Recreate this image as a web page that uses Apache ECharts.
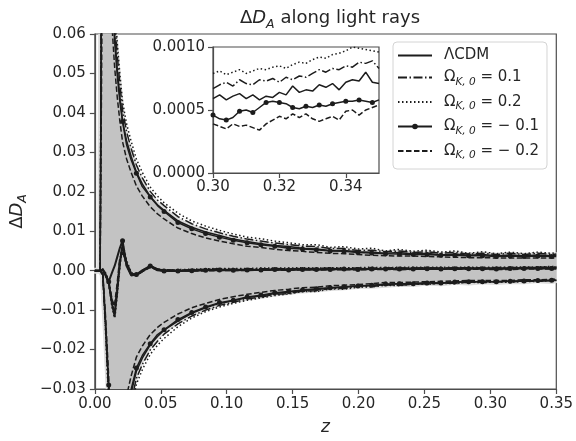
<!DOCTYPE html>
<html><head><meta charset="utf-8">
<script src="https://cdn.jsdelivr.net/npm/echarts@6/dist/echarts.min.js"></script>
<style>html,body{margin:0;padding:0;background:#fff}#c{width:576px;height:441px}</style>
</head><body><div id="c"></div><script>
// ---------- data ----------
const Z = [0,0.002,0.004,0.006,0.008,0.0105,0.013,0.015,0.017,0.019,0.021,0.024,0.0275,0.0315,0.036,0.042,0.0475,0.0525,0.063,0.0735,0.084,0.0945,0.105,0.1155,0.126,0.1365,0.147,0.1575,0.168,0.1785,0.189,0.1995,0.21,0.2205,0.231,0.2415,0.252,0.2625,0.273,0.2835,0.294,0.3045,0.315,0.3255,0.336,0.3465,0.35];

// means
const meanLCDM = [0,0,0,0.0003,-0.0008,-0.0028,-0.0085,-0.0115,-0.005,0.002,
 0.0065,0.002,-0.0008,-0.0011,-0.0002,0.0011,0.0003,0.0001,-0.0001,0.0001,
 0.0002,0.0003,0.0002,0.0003,0.0002,0.0003,0.0003,0.0004,0.0003,0.0004,
 0.0004,0.0005,0.0004,0.0005,0.0005,0.0005,0.0006,0.0005,0.0006,0.0006,
 0.0006,0.0006,0.00061,0.00067,0.0007,0.00076,0.00071];
const meanP01 = [0,0,0,0.0002,-0.001,-0.003,-0.008,-0.0105,-0.0045,0.0025,
 0.006,0.0015,-0.001,-0.0012,0,0.0012,0.0004,0.0002,0.0001,0.0002,
 0.0003,0.0004,0.0003,0.0004,0.0004,0.0005,0.0004,0.0005,0.0005,0.0006,
 0.0005,0.0006,0.0006,0.0006,0.0007,0.0006,0.0007,0.0006,0.0007,0.0007,
 0.0007,0.00071,0.00073,0.00076,0.00082,0.00088,0.00083];
const meanP02 = [0,0,0,0.0004,-0.0006,-0.0025,-0.009,-0.012,-0.0055,0.0015,
 0.0068,0.0025,-0.0005,-0.001,-0.0001,0.001,0.0002,0,0.0002,0.0003,
 0.0004,0.0005,0.0005,0.0005,0.0006,0.0006,0.0006,0.0007,0.0006,0.0007,
 0.0007,0.0007,0.0008,0.0007,0.0008,0.0008,0.0008,0.0008,0.0008,0.0008,
 0.0008,0.0008,0.00082,0.00086,0.00091,0.00099,0.00096];
const meanM01 = [0,0,0,0.0002,-0.0012,-0.0028,-0.0005,0.0012,0.0035,0.0058,
 0.0076,0.0012,-0.0012,-0.001,0.0001,0.0012,0.0001,-0.0001,-0.0001,0,
 0.0001,0.0002,0.0001,0.0002,0.0002,0.0003,0.0002,0.0003,0.0003,0.0003,
 0.0004,0.0003,0.0004,0.0004,0.0004,0.0004,0.0005,0.0004,0.0005,0.0005,
 0.0005,0.00044,0.00054,0.00052,0.00056,0.00057,0.00058];
const meanM02 = [0,0,0,0.0003,-0.0009,-0.0032,-0.0075,-0.009,-0.0035,0.003,
 0.005,0.0018,-0.0006,-0.0012,-0.0002,0.0009,0.0002,0,-0.0001,0,
 0,0.0001,0.0001,0.0001,0.0002,0.0002,0.0002,0.0003,0.0002,0.0003,
 0.0003,0.0003,0.0003,0.0004,0.0003,0.0004,0.0004,0.0004,0.0004,0.0004,
 0.0004,0.00037,0.00036,0.00046,0.00046,0.00052,0.00054];

// upper / lower spread curves
const upLCDM = [0,0,0,0.15,0.14,0.10,0.072,0.060,0.051,0.044,
 0.038,0.033,0.029,0.025,0.022,0.0188,0.0167,0.0153,0.0126,0.0110,
 0.0098,0.0089,0.0080,0.0074,0.0068,0.0064,0.0061,0.0057,0.0055,0.0051,
 0.0051,0.0048,0.0047,0.0044,0.0046,0.0042,0.0044,0.0040,0.0042,0.0039,
 0.0041,0.0038,0.0040,0.0038,0.0040,0.0038,0.0039];
const loLCDM = [0,0,0,-0.001,-0.013,-0.030,-0.070,-0.068,-0.058,-0.050,
 -0.044,-0.037,-0.031,-0.0255,-0.0222,-0.0188,-0.0167,-0.0151,-0.0128,-0.0108,
 -0.0094,-0.0083,-0.0076,-0.0068,-0.0064,-0.0058,-0.0054,-0.0050,-0.0048,-0.0044,
 -0.0042,-0.0039,-0.0038,-0.0036,-0.0033,-0.0034,-0.0030,-0.0032,-0.0028,-0.0030,
 -0.0027,-0.0029,-0.0026,-0.0027,-0.0024,-0.0026,-0.0024];
const upP01 = [0,0,0,0.16,0.15,0.107,0.077,0.064,0.0546,0.0471,
 0.0407,0.0353,0.031,0.0268,0.0235,0.0201,0.0179,0.0165,0.0137,0.0119,
 0.0106,0.0096,0.0087,0.0080,0.0075,0.0070,0.0066,0.0062,0.0061,0.0056,
 0.0056,0.0051,0.0052,0.0048,0.0050,0.0046,0.0048,0.0044,0.0046,0.0042,
 0.0044,0.0041,0.0044,0.0041,0.0044,0.0041,0.0042];
const loP01 = [0,0,0,-0.0012,-0.014,-0.032,-0.075,-0.0728,-0.062,-0.0535,
 -0.0471,-0.0396,-0.0332,-0.0273,-0.0238,-0.0201,-0.0179,-0.0161,-0.0135,-0.0115,
 -0.0100,-0.0088,-0.0080,-0.0072,-0.0067,-0.0060,-0.0058,-0.0052,-0.0051,-0.0045,
 -0.0045,-0.0040,-0.0040,-0.0036,-0.0037,-0.0034,-0.0034,-0.0032,-0.0032,-0.0029,
 -0.0030,-0.0027,-0.0029,-0.0026,-0.0027,-0.0024,-0.0025];
const upP02 = [0,0,0,0.17,0.16,0.113,0.081,0.0678,0.0576,0.0497,
 0.0429,0.0373,0.0328,0.0283,0.0249,0.0212,0.0189,0.0172,0.0146,0.0126,
 0.0113,0.0102,0.0093,0.0085,0.0081,0.0075,0.0071,0.0066,0.0066,0.0059,
 0.0061,0.0055,0.0057,0.0050,0.0054,0.0049,0.0052,0.0047,0.0050,0.0044,
 0.0048,0.0043,0.0047,0.0043,0.0047,0.0044,0.0046];
const loP02 = [0,0,0,-0.0015,-0.015,-0.034,-0.079,-0.0768,-0.0655,-0.0565,
 -0.0497,-0.0418,-0.035,-0.0288,-0.0251,-0.0212,-0.0189,-0.0172,-0.0142,-0.0120,
 -0.0104,-0.0092,-0.0083,-0.0075,-0.0069,-0.0063,-0.0059,-0.0053,-0.0053,-0.0046,
 -0.0047,-0.0042,-0.0041,-0.0037,-0.0038,-0.0034,-0.0035,-0.0032,-0.0033,-0.0029,
 -0.0031,-0.0028,-0.0030,-0.0027,-0.0028,-0.0024,-0.0026];
const upM01 = [0,0,0,0.14,0.135,0.097,0.070,0.0582,0.0495,0.0427,
 0.0378,0.032,0.0281,0.0247,0.0213,0.0187,0.0165,0.0150,0.0122,0.0106,
 0.0094,0.0085,0.0077,0.0071,0.0066,0.0062,0.0057,0.0055,0.0053,0.0050,
 0.0049,0.0046,0.0045,0.0043,0.0042,0.0041,0.0041,0.0039,0.0039,0.0038,
 0.0038,0.0036,0.0037,0.0036,0.0037,0.0036,0.0036];
const loM01 = [0,0,0,-0.0008,-0.012,-0.029,-0.068,-0.066,-0.0563,-0.0485,
 -0.0427,-0.0359,-0.0301,-0.0247,-0.0215,-0.0185,-0.0162,-0.015,-0.0124,-0.0106,
 -0.0092,-0.0081,-0.0075,-0.0067,-0.0062,-0.0056,-0.0053,-0.0049,-0.0046,-0.0043,
 -0.0041,-0.0039,-0.0037,-0.0034,-0.0033,-0.0033,-0.0031,-0.0031,-0.0029,-0.0028,
 -0.0028,-0.0028,-0.0027,-0.0026,-0.0025,-0.0024,-0.0024];
const upM02 = [0,0,0,0.09,0.12,0.086,0.062,0.0516,0.0439,0.0378,
 0.0327,0.0284,0.0249,0.0215,0.0189,0.0162,0.0144,0.0131,0.0108,0.0094,
 0.0083,0.0075,0.0068,0.0062,0.0059,0.0054,0.0051,0.0049,0.0046,0.0044,
 0.0043,0.0041,0.0039,0.0038,0.0037,0.0037,0.0036,0.0035,0.0034,0.0033,
 0.0033,0.0032,0.0032,0.0032,0.0032,0.0032,0.0032];
const loM02 = [0,0,0,-0.0006,-0.011,-0.027,-0.062,-0.0585,-0.0499,-0.043,
 -0.0378,-0.0318,-0.0267,-0.0219,-0.0191,-0.0162,-0.0144,-0.0131,-0.011,-0.0094,
 -0.0083,-0.0073,-0.0066,-0.006,-0.0055,-0.005,-0.0047,-0.0043,-0.0042,-0.0038,
 -0.0037,-0.0035,-0.0033,-0.003,-0.003,-0.0029,-0.0028,-0.0027,-0.0026,-0.0025,
 -0.0025,-0.0025,-0.0025,-0.0023,-0.0023,-0.0022,-0.0022];

// inset (zoom on 0.30 - 0.35)
const ZI = [0.300,0.302,0.304,0.306,0.308,0.310,0.312,0.314,0.316,0.318,0.320,0.322,0.324,0.326,0.328,0.330,0.332,0.334,0.336,0.338,0.340,0.342,0.344,0.346,0.348,0.350];
const insetLCDM = [0.00059,0.00062,0.00058,0.00061,0.00063,0.00059,0.00062,0.00058,0.00061,0.00060,0.00064,0.00062,0.00069,0.00064,0.00066,0.00065,0.00070,0.00068,0.00071,0.00066,0.00072,0.00074,0.00073,0.00080,0.00072,0.00071];
const insetP01 = [0.00067,0.00070,0.00072,0.00069,0.00074,0.00071,0.00070,0.00074,0.00073,0.00075,0.00072,0.00076,0.00074,0.00077,0.00076,0.00079,0.00082,0.00080,0.00083,0.00082,0.00085,0.00084,0.00088,0.00087,0.00089,0.00083];
const insetP02 = [0.00079,0.00081,0.00078,0.00080,0.00082,0.00079,0.00081,0.00083,0.00082,0.00084,0.00085,0.00083,0.00086,0.00088,0.00087,0.00090,0.00092,0.00091,0.00094,0.00095,0.00097,0.00100,0.00099,0.00098,0.00097,0.00096];
const insetM01 = [0.00046,0.00043,0.00042,0.00044,0.00049,0.00050,0.00048,0.00052,0.00056,0.00057,0.00056,0.00055,0.00052,0.00051,0.00053,0.00052,0.00054,0.00053,0.00055,0.00056,0.00057,0.00057,0.00058,0.00057,0.00056,0.00058];
const insetM02 = [0.00039,0.00037,0.00035,0.00039,0.00037,0.00038,0.00036,0.00034,0.00039,0.00042,0.00045,0.00043,0.00047,0.00044,0.00047,0.00043,0.00041,0.00043,0.00045,0.00042,0.00049,0.00050,0.00046,0.00050,0.00052,0.00054];

// ---------- drawing ----------
const INK = '#1c1c1c';
const TXT = '#262626';
const SPINE = '#4d4d4d';
const FONT = 'DejaVu Sans';
const CLEAR = 'rgba(0,0,0,0)';
const DASHES = {
  solid: 'solid',
  dashdot: [9, 2.5, 1.5, 2.5],
  dotted: [1.5, 2.5],
  dashed: [5.5, 2.5]
};
const models = [
  {name:'ΛCDM', label:'{t|ΛCDM}', mean:meanLCDM, up:upLCDM, lo:loLCDM, inset:insetLCDM, dash:'solid', marker:false},
  {name:'ΩK0=0.1', label:'{t|Ω}{s|K, 0}{t| = 0.1}', mean:meanP01, up:upP01, lo:loP01, inset:insetP01, dash:'dashdot', marker:false},
  {name:'ΩK0=0.2', label:'{t|Ω}{s|K, 0}{t| = 0.2}', mean:meanP02, up:upP02, lo:loP02, inset:insetP02, dash:'dotted', marker:false},
  {name:'ΩK0=-0.1', label:'{t|Ω}{s|K, 0}{t| = − 0.1}', mean:meanM01, up:upM01, lo:loM01, inset:insetM01, dash:'solid', marker:true},
  {name:'ΩK0=-0.2', label:'{t|Ω}{s|K, 0}{t| = − 0.2}', mean:meanM02, up:upM02, lo:loM02, inset:insetM02, dash:'dashed', marker:false}
];

function pairs(xs, ys){ return xs.map((x,i)=>[x, ys[i]]); }
function mainMarkerSize(v){
  const q = v[0]/0.0105;
  return (v[0] > 0 && Math.abs(q - Math.round(q)) < 0.02) ? 5 : 0;
}

const series = [];
// shaded band for LCDM
series.push({
  type:'custom', xAxisIndex:0, yAxisIndex:0, clip:true, z:1, silent:true,
  data:[[0,0]],
  renderItem:function(params, api){
    if (params.dataIndex !== 0) return null;
    const up = [], lo = [];
    for (let i = 0; i < Z.length; i++) {
      up.push(api.coord([Z[i], upLCDM[i]]));
      lo.push(api.coord([Z[i], loLCDM[i]]));
    }
    const pts = up.concat(lo.reverse());
    return {type:'group', children:[
      {type:'polygon', shape:{points:pts}, style:{fill:'#dcdcdc', stroke:'#dcdcdc', lineWidth:6, lineJoin:'round'}},
      {type:'polygon', shape:{points:pts}, style:{fill:'#c3c3c3'}}
    ]};
  }
});

models.forEach((m, k) => {
  const common = {
    type:'line', name:m.name, xAxisIndex:0, yAxisIndex:0, clip:true, animation:false,
    symbol: m.marker ? 'circle' : 'none',
    symbolSize: m.marker ? mainMarkerSize : 0,
    showSymbol: m.marker, showAllSymbol: true,
    itemStyle:{color: m.marker ? INK : CLEAR},
    z: 3 + k
  };
  [m.up, m.lo].forEach(arr => {
    series.push(Object.assign({}, common, {
      data: pairs(Z, arr),
      lineStyle:{color:INK, width:1.5, type:DASHES[m.dash]}
    }));
  });
  series.push(Object.assign({}, common, {
    data: pairs(Z, m.mean),
    lineStyle:{color:INK, width:2, type:DASHES[m.dash]}
  }));
  series.push({
    type:'line', name:m.name, xAxisIndex:1, yAxisIndex:1, clip:true, animation:false,
    symbol: m.marker ? 'circle' : 'none',
    symbolSize: m.marker ? function(v, p){ return p.dataIndex % 2 === 0 ? 5 : 0; } : 0,
    showSymbol: m.marker, showAllSymbol: true,
    itemStyle:{color: m.marker ? INK : CLEAR},
    data: pairs(ZI, m.inset),
    lineStyle:{color:INK, width:1.5, type:DASHES[m.dash]},
    z: 10 + k
  });
});

function fmtSigned(v, d){
  if (Math.abs(v) < 1e-12) return (0).toFixed(d);
  return (v < 0 ? '−' : '') + Math.abs(v).toFixed(d);
}

const axisCommon = {
  axisLine:{show:true, onZero:false, lineStyle:{color:SPINE, width:1.2}},
  axisTick:{show:true, inside:false, length:5, lineStyle:{color:SPINE, width:1.2}},
  splitLine:{show:false},
  axisLabel:{color:TXT, fontFamily:FONT, fontSize:15}
};

const option = {
  animation:false,
  backgroundColor:'#ffffff',
  title:{
    text:'{a|Δ}{i|D}{s|A}{a| along light rays}',
    left:325, top:0, textAlign:'center',
    textStyle:{
      fontWeight:'normal',
      rich:{
        a:{fontFamily:FONT, fontSize:18, fontWeight:'normal', color:TXT, lineHeight:26, verticalAlign:'middle'},
        i:{fontFamily:FONT, fontSize:18, fontWeight:'normal', color:TXT, fontStyle:'italic', lineHeight:26, verticalAlign:'middle'},
        s:{fontFamily:FONT, fontSize:12.5, fontWeight:'normal', color:TXT, fontStyle:'italic', lineHeight:14, verticalAlign:'bottom'}
      }
    }
  },
  legend:{
    left:393, top:42, orient:'vertical',
    itemWidth:34, itemHeight:7, itemGap:7,
    padding:[6, 8, 8, 4],
    backgroundColor:'rgba(255,255,255,0.8)',
    borderColor:'#d4d4d4', borderWidth:1, borderRadius:4,
    data: models.map(m => m.name),
    formatter: function(name){ const m = models.find(mm => mm.name === name); return m.label; },
    textStyle:{
      padding:[0,0,0,7],
      rich:{
        t:{fontFamily:FONT, fontSize:15, color:TXT, lineHeight:20, verticalAlign:'middle'},
        s:{fontFamily:FONT, fontSize:10.5, color:TXT, fontStyle:'italic', lineHeight:10, verticalAlign:'bottom'}
      }
    }
  },
  grid:[
    {left:93, top:34, right:19, bottom:52, show:true, borderColor:SPINE, borderWidth:1.2, backgroundColor:'transparent', containLabel:false},
    {left:213, top:47, width:166, height:126, show:true, borderColor:SPINE, borderWidth:1.2, backgroundColor:'#ffffff', containLabel:false}
  ],
  xAxis:[
    Object.assign({}, axisCommon, {
      type:'value', gridIndex:0, min:0, max:0.35, interval:0.05,
      axisLabel:Object.assign({}, axisCommon.axisLabel, {margin:8, formatter:v => v.toFixed(2), showMaxLabel:true}),
      name:'z', nameLocation:'middle', nameGap:30,
      nameTextStyle:{fontFamily:FONT, fontSize:17, fontStyle:'italic', color:TXT}
    }),
    Object.assign({}, axisCommon, {
      type:'value', gridIndex:1, min:0.30, max:0.35, interval:0.02,
      axisLabel:Object.assign({}, axisCommon.axisLabel, {margin:7, formatter:v => v.toFixed(2), showMaxLabel:false})
    })
  ],
  yAxis:[
    Object.assign({}, axisCommon, {
      type:'value', gridIndex:0, min:-0.03, max:0.06, interval:0.01,
      axisLabel:Object.assign({}, axisCommon.axisLabel, {margin:9, formatter:v => fmtSigned(v, 2)}),
      name:'{a|Δ}{i|D}{s|A}', nameLocation:'middle', nameGap:60, nameRotate:90,
      nameTextStyle:{
        rich:{
          a:{fontFamily:FONT, fontSize:18, color:TXT, lineHeight:24, verticalAlign:'middle'},
          i:{fontFamily:FONT, fontSize:18, color:TXT, fontStyle:'italic', lineHeight:24, verticalAlign:'middle'},
          s:{fontFamily:FONT, fontSize:12.5, color:TXT, fontStyle:'italic', lineHeight:12, verticalAlign:'bottom'}
        }
      }
    }),
    Object.assign({}, axisCommon, {
      type:'value', gridIndex:1, min:0, max:0.001, interval:0.0005,
      axisLabel:Object.assign({}, axisCommon.axisLabel, {margin:8, formatter:v => v.toFixed(4)})
    })
  ],
  series: series
};

const chart = echarts.init(document.getElementById('c'), null, {renderer:'canvas'});
chart.setOption(option);
</script></body></html>
